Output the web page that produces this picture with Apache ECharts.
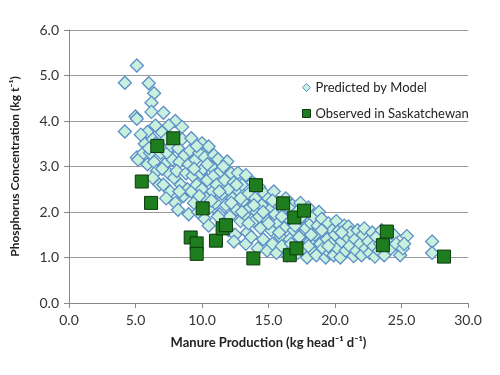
<!DOCTYPE html>
<html><head><meta charset="utf-8">
<script src="https://cdn.jsdelivr.net/npm/echarts@6/dist/echarts.min.js"></script>
<style>html,body{margin:0;padding:0;background:#fff}#c{width:500px;height:375px}</style>
</head><body><div id="c"></div>
<script>
var xTicks = ['0.0','5.0','10.0','15.0','20.0','25.0','30.0'];
var yTicks = ['0.0','1.0','2.0','3.0','4.0','5.0','6.0'];
var seriesNames = ['Predicted by Model','Observed in Saskatchewan'];

var predicted = [
[4.2,4.84],[5.1,5.22],[4.2,3.77],[5.0,4.1],[5.1,4.05],[5.1,3.2],[5.2,3.15],[6.0,4.83],[6.4,4.61],[6.2,4.4],[6.2,4.2],[5.9,3.76],[5.7,3.5],[5.6,3.3],[5.9,3.05],[6.3,3.6],[6.5,3.9],[6.1,3.3],[6.4,3.1],[6.6,2.9],[6.3,2.75],[6.8,2.6],[6.5,3.5],[6.9,3.3],
[7.1,4.18],[7.0,3.75],[7.3,3.6],[7.4,3.3],[7.2,3.05],[7.5,2.85],[7.1,2.6],[7.6,2.45],[7.3,2.3],[7.8,3.15],[7.7,3.45],[7.9,2.75],[8.0,4.0],[8.5,3.87],[8.2,3.4],[8.3,3.1],[8.1,2.9],[8.4,2.6],[8.0,2.2],[8.6,2.35],[8.2,2.05],[8.7,3.25],[8.8,2.85],[8.9,2.5],[8.5,3.6],
[9.2,3.62],[9.1,3.35],[9.0,3.05],[9.3,2.8],[9.2,2.45],[9.4,2.2],[9.0,1.95],[9.5,3.15],[9.6,2.6],[9.7,2.0],[9.8,3.3],[9.9,2.85],[10.0,3.51],[10.2,3.2],[10.1,2.95],[10.0,2.5],[10.3,2.3],[10.2,1.85],[10.5,3.44],[10.4,2.7],[10.6,2.1],[10.7,3.0],[10.8,2.45],[10.5,1.7],[10.9,2.8],[10.9,3.25],
[11.2,3.16],[11.0,2.2],[11.1,2.6],[11.3,1.95],[11.4,2.9],[11.5,2.4],[11.6,1.75],[11.7,2.7],[11.9,3.11],[11.8,2.15],[12.0,2.5],[12.1,1.9],[12.2,2.85],[12.0,1.6],[12.3,2.3],[12.4,2.65],[12.5,1.5],[12.7,2.86],[12.6,2.05],[12.8,2.45],[12.9,1.8],[12.4,1.35],
[13.3,2.81],[13.0,2.6],[13.1,2.25],[13.2,1.95],[13.4,1.55],[13.5,2.4],[13.6,2.1],[13.3,1.3],[13.8,2.65],[13.9,1.8],[13.7,1.45],[14.0,2.3],[14.1,2.0],[14.2,1.2],[14.3,2.55],[14.4,1.65],[14.5,2.15],[14.6,1.4],[14.7,2.4],[14.8,1.85],[14.9,1.15],
[15.0,2.3],[15.1,2.05],[15.2,1.6],[15.3,1.3],[15.4,2.45],[15.5,1.95],[15.6,1.1],[15.7,1.75],[15.8,2.2],[15.9,1.45],[16.0,1.25],[16.1,2.05],[16.2,1.65],[16.3,2.3],[16.4,1.05],[16.5,1.85],[16.6,1.4],[16.8,2.15],[16.9,1.6],
[17.0,1.3],[17.1,2.0],[17.2,1.1],[17.3,1.8],[17.4,2.2],[17.5,1.5],[17.6,1.2],[17.7,1.95],[17.8,1.65],[17.9,1.0],[18.0,2.1],[18.1,1.35],[18.2,1.75],[18.3,1.15],[18.4,1.9],[18.5,1.5],[18.6,1.05],[18.7,1.7],[18.9,1.3],[18.8,2.0],
[19.0,1.85],[19.1,1.2],[19.2,1.55],[19.3,1.0],[19.4,1.4],[19.5,1.75],[19.6,1.1],[19.7,1.3],[19.8,1.6],[19.9,1.05],[20.0,1.5],[20.1,1.8],[20.2,1.2],[20.3,1.6],[20.4,1.0],[20.5,1.35],[20.7,1.7],[20.8,1.15],[20.9,1.45],
[21.0,1.68],[21.1,1.25],[21.2,1.55],[21.4,1.03],[21.5,1.4],[21.6,1.15],[21.7,1.6],[21.9,1.3],[22.0,1.05],[22.1,1.5],[22.2,1.64],[22.3,1.2],[22.5,1.35],[22.6,1.1],[22.8,1.55],[22.9,1.25],
[23.0,1.02],[23.1,1.45],[23.3,1.15],[23.4,1.3],[23.5,1.6],[23.7,1.05],[24.0,1.4],[24.2,1.2],[24.4,1.5],[24.6,1.3],[24.9,1.05],[25.1,1.2],[25.4,1.47],[25.2,1.3],
[27.3,1.35],[27.3,1.1],
[9.4,2.95],[9.8,2.35],[10.4,3.05],[10.7,2.25],[11.3,2.45],[11.6,3.0],[12.2,2.2],[12.6,2.6],[13.0,2.0],[13.5,1.75],[14.0,2.6],[14.3,1.9],[15.0,1.75],[15.3,2.25],[16.0,1.9],[16.5,2.1],[17.0,1.7],[17.5,1.9],[18.2,1.5],[19.0,1.6],[11.2,1.9],[12.9,2.3],[13.9,2.15],[14.6,2.0],[15.8,1.55],[16.7,1.3],[17.3,1.45],[18.0,1.25],[19.5,1.25],[20.5,1.55],[8.3,2.45],[7.0,2.95],[6.0,3.4],[5.4,3.7],[7.5,3.9],[9.6,3.45]
];

var observed = [
[5.47,2.67],[6.17,2.20],[6.64,3.45],[7.84,3.62],[10.05,2.08],[9.15,1.44],[9.6,1.31],[9.6,1.08],[11.05,1.37],[11.55,1.64],[11.8,1.71],[13.86,0.98],[14.06,2.59],[16.1,2.19],[16.94,1.88],[17.67,2.03],[16.6,1.05],[17.1,1.2],[23.9,1.57],[23.6,1.27],[28.2,1.02]
];

var chart = echarts.init(document.getElementById('c'), null, {renderer:'canvas'});
var FONT = 'Lato, "Open Sans", "DejaVu Sans", sans-serif';
chart.setOption({
  animation:false,
  backgroundColor:'#fff',
  grid:{left:69,right:32,top:30,bottom:72,containLabel:false},
  legend:{
    orient:'vertical', left:297, top:76, itemGap:13, itemWidth:8, itemHeight:8,
    textStyle:{fontFamily:FONT,fontSize:13,color:'#222'},
    data:[
      {name:seriesNames[0], icon:'diamond', itemStyle:{color:'#c8f0dc',borderColor:'#5b8fc7',borderWidth:1}},
      {name:seriesNames[1], icon:'rect', itemStyle:{color:'#1e7d1e',borderColor:'#0a3a0a',borderWidth:1}}
    ]
  },
  xAxis:{
    type:'value', min:0, max:30, interval:5,
    name:'Manure Production (kg head⁻¹ d⁻¹)', nameLocation:'middle', nameGap:33,
    nameTextStyle:{fontFamily:FONT,fontSize:13,fontWeight:'bold',color:'#222'},
    axisLine:{show:true,lineStyle:{color:'#888'}},
    axisTick:{show:true,length:5,lineStyle:{color:'#888'}},
    axisLabel:{fontFamily:FONT,fontSize:14,color:'#333',margin:10,formatter:function(v){return xTicks[Math.round(v/5)];}},
    splitLine:{show:false}
  },
  yAxis:{
    type:'value', min:0, max:6, interval:1,
    name:'Phosphorus Concentration (kg t⁻¹)', nameLocation:'middle', nameGap:48, nameRotate:90,
    nameTextStyle:{fontFamily:FONT,fontSize:12,fontWeight:'bold',color:'#222'},
    axisLine:{show:true,lineStyle:{color:'#888'}},
    axisTick:{show:true,length:5,lineStyle:{color:'#888'}},
    axisLabel:{fontFamily:FONT,fontSize:14,color:'#333',margin:10,formatter:function(v){return yTicks[Math.round(v)];}},
    splitLine:{show:true,lineStyle:{color:'#999',width:1}}
  },
  series:[
    {name:seriesNames[0], type:'scatter', data:predicted, symbol:'diamond', symbolSize:13,
     itemStyle:{color:'#c8f0dc',borderColor:'#5b8fc7',borderWidth:1.3,opacity:1}, z:2},
    {name:seriesNames[1], type:'scatter', data:observed, symbol:'rect', symbolSize:13,
     itemStyle:{color:'#1e7d1e',borderColor:'#0a3a0a',borderWidth:1,opacity:1}, z:3}
  ]
});
</script></body></html>
